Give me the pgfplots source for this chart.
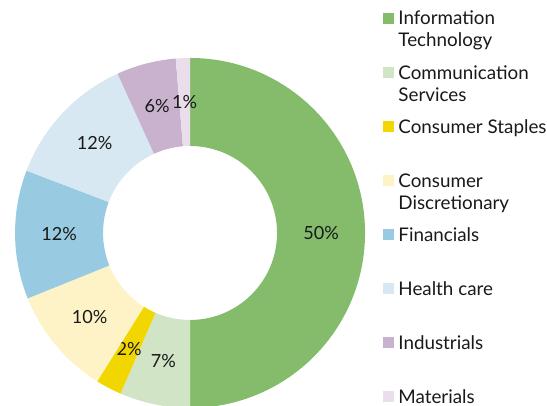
\documentclass[border=0pt]{standalone}
\usepackage{pgfplots}
\pgfplotsset{compat=1.18}
\usepackage{pgfplotstable}
\usepackage{fontspec}
\setmainfont{Lato}
\definecolor{cIT}{RGB}{132,188,108}
\definecolor{cCS}{RGB}{209,228,197}
\definecolor{cST}{RGB}{242,214,0}
\definecolor{cCD}{RGB}{253,243,199}
\definecolor{cFI}{RGB}{152,203,226}
\definecolor{cHC}{RGB}{215,232,242}
\definecolor{cIN}{RGB}{201,178,205}
\definecolor{cMA}{RGB}{234,222,236}
\pgfplotstableread[col sep=comma]{
val,pct,col
50,50,cIT
6.5,7,cCS
2.4,2,cST
10,10,cCD
11.9,12,cFI
12.4,12,cHC
5.5,6,cIN
1.3,1,cMA
}\sectors
\begin{document}
\begin{tikzpicture}
\useasboundingbox (0,0) rectangle (10.94cm,8.1cm);
\begin{axis}[x=0.02cm,y=0.02cm,xmin=0,xmax=547,ymin=0,ymax=405,
  hide axis, anchor=origin, at={(0,0)}, clip=false]
\pgfplotsextra{
  \xdef\cum{0}
  \foreach \a/\b [count=\i from 0] in {Information/Technology,Communication/Services,Consumer Staples/,Consumer/Discretionary,Financials/,Health care/,Industrials/,Materials/}{
    \pgfplotstablegetelem{\i}{val}\of\sectors \let\sv\pgfplotsretval
    \pgfplotstablegetelem{\i}{col}\of\sectors \let\scol\pgfplotsretval
    \pgfplotstablegetelem{\i}{pct}\of\sectors \let\spct\pgfplotsretval
    \pgfmathsetmacro\sa{90-3.6*\cum}
    \pgfmathsetmacro\se{90-3.6*(\cum+\sv)}
    \pgfmathsetmacro\sm{(\sa+\se)/2}
    \fill[\scol] ([shift={(\sa:3.5cm)}]axis cs:190,172) arc[start angle=\sa,end angle=\se,radius=3.5cm]
      -- ([shift={(\se:1.74cm)}]axis cs:190,172) arc[start angle=\se,end angle=\sa,radius=1.74cm] -- cycle;
    \node[font=\fontsize{10.3}{12}\selectfont,text=black!90] at ([shift={(\sm:2.62cm)}]axis cs:190,172) {\spct\%};
    \pgfmathsetmacro\newcum{\cum+\sv}
    \xdef\cum{\newcum}
    % legend
    \pgfmathsetmacro\yc{405-(18.5+54.07*\i)}
    \fill[\scol] (axis cs:383,\yc-5.5) rectangle (axis cs:394,\yc+5.5);
    \node[anchor=base west,inner sep=0pt,font=\fontsize{10.7}{12}\selectfont,text=black!90] at (axis cs:398,\yc-6.5) {\a};
    \node[anchor=base west,inner sep=0pt,font=\fontsize{10.7}{12}\selectfont,text=black!90] at (axis cs:398,\yc-28.5) {\b};
  }
}
\end{axis}
\end{tikzpicture}
\end{document}
